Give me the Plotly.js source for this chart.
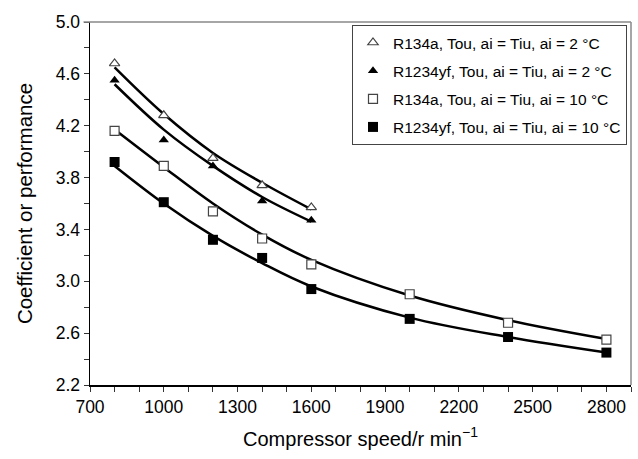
<!DOCTYPE html>
<html>
<head>
<meta charset="utf-8">
<script src="https://cdn.plot.ly/plotly-3.0.1.min.js"></script>
<style>html,body{margin:0;padding:0;background:#fff;}#chart{width:638px;height:459px;}</style>
</head>
<body>
<div id="chart"></div>
<script>
// Measured points
const speedsLow = [800, 1000, 1200, 1400, 1600];
const speedsAll = [800, 1000, 1200, 1400, 1600, 2000, 2400, 2800];
const copR134a2 = [4.68, 4.28, 3.95, 3.74, 3.57];
const copR1234yf2 = [4.55, 4.09, 3.89, 3.62, 3.47];
const copR134a10 = [4.16, 3.89, 3.54, 3.33, 3.13, 2.90, 2.68, 2.55];
const copR1234yf10 = [3.92, 3.61, 3.32, 3.18, 2.94, 2.71, 2.57, 2.45];
// Trend lines
const fitR134a2 = [4.65, 4.29, 3.99, 3.76, 3.555];
const fitR1234yf2 = [4.52, 4.17, 3.89, 3.65, 3.46];
const fitR134a10 = [4.17, 3.88, 3.60, 3.36, 3.165, 2.89, 2.70, 2.555];
const fitR1234yf10 = [3.89, 3.60, 3.35, 3.14, 2.96, 2.72, 2.57, 2.45];
const seriesNames = [
  'R134a, Tou, ai = Tiu, ai = 2 °C',
  'R1234yf, Tou, ai = Tiu, ai = 2 °C',
  'R134a, Tou, ai = Tiu, ai = 10 °C',
  'R1234yf, Tou, ai = Tiu, ai = 10 °C'
];
const xTicks = [700, 1000, 1300, 1600, 1900, 2200, 2500, 2800];

const FONT = 'Liberation Sans, Arial, Helvetica, sans-serif';
const lineStyle = {color: '#000', width: 2.5, shape: 'spline', smoothing: 1};
function fitTrace(x, y) {
  return {x: x, y: y, type: 'scatter', mode: 'lines', line: lineStyle, showlegend: false, hoverinfo: 'skip'};
}
function ptTrace(x, y, name, symbol, size, fill) {
  return {
    x: x, y: y, type: 'scatter', mode: 'markers', name: name,
    legendgroup: name,
    marker: {symbol: symbol, size: size, color: fill ? '#000' : '#fff',
             line: {color: fill ? '#000' : '#444', width: fill ? 0 : 1.2}}
  };
}
const data = [
  fitTrace(speedsLow, fitR134a2),
  fitTrace(speedsLow, fitR1234yf2),
  fitTrace(speedsAll, fitR134a10),
  fitTrace(speedsAll, fitR1234yf10),
  ptTrace(speedsLow, copR134a2, seriesNames[0], 'triangle-up', 9, false),
  ptTrace(speedsLow, copR1234yf2, seriesNames[1], 'triangle-up', 9, true),
  ptTrace(speedsAll, copR134a10, seriesNames[2], 'square', 9, false),
  ptTrace(speedsAll, copR1234yf10, seriesNames[3], 'square', 10, true)
];
const layout = {
  width: 638, height: 459,
  margin: {l: 90, r: 7, t: 22, b: 74},
  paper_bgcolor: '#fff', plot_bgcolor: '#fff',
  font: {family: FONT, color: '#000', size: 17},
  xaxis: {
    range: [700, 2900], tickvals: xTicks, ticks: 'outside', ticklen: 5, tickwidth: 1, tickcolor: '#333',
    minor: {dtick: 100, tick0: 700, ticks: 'outside', ticklen: 5, tickcolor: '#333'},
    showline: true, linecolor: '#000', linewidth: 1.5, showgrid: false, zeroline: false,
    tickfont: {size: 17.5}, title: {text: 'Compressor speed/r min<sup>−1</sup>', font: {size: 20}, standoff: 16}
  },
  yaxis: {
    range: [2.2, 5.0], tick0: 2.2, dtick: 0.4, tickformat: '.1f', ticks: 'outside', ticklen: 5, tickcolor: '#333',
    minor: {dtick: 0.2, tick0: 2.2, ticks: 'outside', ticklen: 5, tickcolor: '#333'},
    showline: true, linecolor: '#000', linewidth: 1.5, showgrid: false, zeroline: false,
    tickfont: {size: 17.5}, title: {text: 'Coefficient or performance', font: {size: 20.5}, standoff: 17}
  },
  legend: {
    x: 0.9926, xanchor: 'right', y: 0.992, yanchor: 'top',
    bordercolor: '#444', borderwidth: 1, bgcolor: '#fff',
    font: {size: 15.5, family: FONT}, traceorder: 'grouped', tracegroupgap: 5,
    itemwidth: 30, entrywidth: 248
  },
  shapes: [
    {type: 'line', xref: 'paper', yref: 'paper', x0: -0.012, x1: 1, y0: 1, y1: 1, line: {color: '#888', width: 1.5}},
    {type: 'line', xref: 'paper', yref: 'paper', x0: 1, x1: 1, y0: 0, y1: 1, line: {color: '#888', width: 1.5}}
  ]
};
Plotly.newPlot('chart', data, layout, {displayModeBar: false, staticPlot: true});
</script>
</body>
</html>
